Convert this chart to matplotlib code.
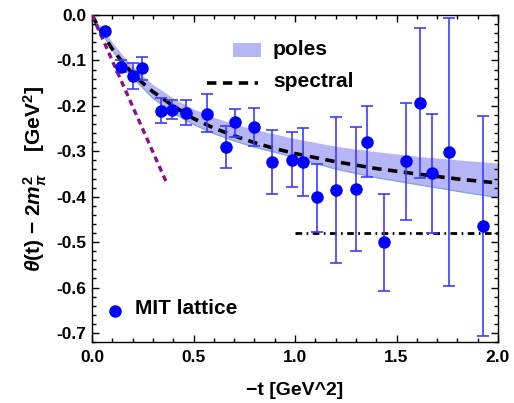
import numpy as np
import matplotlib
matplotlib.use("Agg")
import matplotlib.pyplot as plt
from matplotlib.ticker import MultipleLocator, FormatStrFormatter

plt.rcParams['font.family'] = ['Liberation Sans', 'DejaVu Sans']
plt.rcParams['font.weight'] = 'bold'
plt.rcParams['mathtext.fontset'] = 'custom'
plt.rcParams['mathtext.rm'] = 'Liberation Sans:bold'
plt.rcParams['mathtext.it'] = 'Liberation Sans:italic:bold'
plt.rcParams['mathtext.bf'] = 'Liberation Sans:bold'
plt.rcParams['axes.unicode_minus'] = True

# ---- lattice data (MIT lattice) ----
t_lat = [0.064, 0.141, 0.204, 0.246, 0.338, 0.392, 0.463, 0.565, 0.659, 0.704,
         0.798, 0.885, 0.987, 1.041, 1.108, 1.202, 1.300, 1.355, 1.438, 1.547,
         1.616, 1.675, 1.759, 1.926]
theta_lat = [-0.035, -0.114, -0.134, -0.117, -0.211, -0.209, -0.215, -0.217, -0.291, -0.236,
             -0.247, -0.324, -0.319, -0.324, -0.401, -0.385, -0.383, -0.280, -0.500, -0.322,
             -0.194, -0.348, -0.302, -0.465]
theta_hi = [-0.030, -0.099, -0.106, -0.093, -0.183, -0.187, -0.187, -0.174, -0.244, -0.207,
            -0.205, -0.253, -0.258, -0.249, -0.328, -0.225, -0.247, -0.200, -0.394, -0.194,
            -0.029, -0.218, -0.007, -0.222]
theta_lo = [-0.040, -0.126, -0.163, -0.143, -0.238, -0.229, -0.242, -0.258, -0.337, -0.269,
            -0.289, -0.394, -0.379, -0.398, -0.478, -0.546, -0.520, -0.357, -0.608, -0.452,
            -0.359, -0.480, -0.597, -0.707]

# ---- spectral curve ----
t_spec = [0, 0.03, 0.06, 0.1, 0.15, 0.2, 0.25, 0.3, 0.4, 0.5, 0.6, 0.7, 0.8, 0.9, 1.0,
          1.2, 1.4, 1.6, 1.8, 2.0]
theta_spec = [0, -0.025, -0.047, -0.075, -0.104, -0.129, -0.150, -0.169, -0.200, -0.228,
              -0.249, -0.266, -0.281, -0.294, -0.305, -0.323, -0.338, -0.350, -0.361, -0.370]

# ---- poles band ----
t_band = [0, 0.05, 0.1, 0.15, 0.2, 0.3, 0.4, 0.5, 0.6, 0.7, 0.8, 0.9, 1.0, 1.2, 1.4, 1.6,
          1.8, 2.0]
band_up = [0, -0.030, -0.060, -0.088, -0.113, -0.153, -0.183, -0.207, -0.225, -0.240,
           -0.252, -0.262, -0.272, -0.289, -0.301, -0.311, -0.319, -0.326]
band_lo = [0, -0.040, -0.077, -0.110, -0.138, -0.183, -0.216, -0.241, -0.261, -0.277,
           -0.291, -0.302, -0.314, -0.339, -0.358, -0.373, -0.388, -0.402]

# ---- low-t slope line (purple) ----
t_slope = [0.0, 0.365]
theta_slope = [0.0, -0.367]

# ---- asymptotic level (dash-dot) ----
t_asym = [1.0, 2.0]
theta_asym = [-0.48, -0.48]

fig = plt.figure(figsize=(5.14, 4.03), dpi=100)
ax = fig.add_axes([92/514, 1-342/403, 406/514, 327/403])

ax.fill_between(t_band, band_lo, band_up, color='#b6b6f6', lw=0, zorder=1)
ax.plot(t_band, band_lo, color='#86a6d8', lw=1.0, zorder=1.5)
ax.plot(t_spec, theta_spec, color='black', lw=2.6, ls=(0, (2.6, 1.8)), zorder=3)
ax.plot(t_slope, theta_slope, color='#8b0f86', lw=2.4, ls=(0, (1.8, 1.3)), zorder=3)
ax.plot(t_asym, theta_asym, color='black', lw=2.0, ls=(0, (2.4, 1.6, 0.6, 1.6)), zorder=3)

t_arr = np.array(t_lat)
y_arr = np.array(theta_lat)
yerr = [y_arr - np.array(theta_lo), np.array(theta_hi) - y_arr]
ax.errorbar(t_arr, y_arr, yerr=yerr, fmt='o', color='#0000ff', ms=8,
            ecolor='#3c3cff', elinewidth=1.2, capsize=4, capthick=1.2, zorder=4)

ax.set_xlim(0, 2.0)
ax.set_ylim(-0.72, 0.0)
ax.xaxis.set_major_locator(MultipleLocator(0.5))
ax.xaxis.set_minor_locator(MultipleLocator(0.1))
ax.yaxis.set_major_locator(MultipleLocator(0.1))
ax.yaxis.set_minor_locator(MultipleLocator(0.02))
ax.xaxis.set_major_formatter(FormatStrFormatter('%.1f'))
ax.yaxis.set_major_formatter(FormatStrFormatter('%.1f'))
ax.tick_params(which='both', direction='in', top=True, right=True, labelsize=12.5, width=1)
ax.tick_params(which='major', length=5)
ax.tick_params(which='minor', length=3)
ax.tick_params(axis='x', pad=6)
ax.tick_params(axis='y', pad=4)
for lab in ax.get_xticklabels() + ax.get_yticklabels():
    lab.set_fontweight('bold')
for s in ax.spines.values():
    s.set_linewidth(1.0)

ax.set_xlabel('\u2212t [GeV^2]', fontsize=14, fontweight='bold', labelpad=12)
ax.set_ylabel('$\\theta$(t) \u2212 2$m_\\pi^2$    [GeV$^2$]',
              fontsize=15, fontweight='bold', labelpad=5)

# legend entries drawn in axes coordinates
tr = ax.transAxes
ax.fill([0.347, 0.416, 0.416, 0.347], [0.872, 0.872, 0.914, 0.914], color='#b6b6f6',
        transform=tr, lw=0, zorder=5)
ax.text(0.446, 0.893, 'poles', transform=tr, fontsize=15, fontweight='bold', va='center')
ax.plot([0.283, 0.410], [0.792, 0.792], color='black', lw=2.6, ls=(0, (2.6, 1.8)), transform=tr)
ax.text(0.446, 0.798, 'spectral', transform=tr, fontsize=15, fontweight='bold', va='center')
ax.plot([0.057], [0.095], 'o', color='#0000ff', ms=8, transform=tr)
ax.text(0.106, 0.101, 'MIT lattice', transform=tr, fontsize=15, fontweight='bold', va='center')

fig.savefig('out.png', dpi=100)
